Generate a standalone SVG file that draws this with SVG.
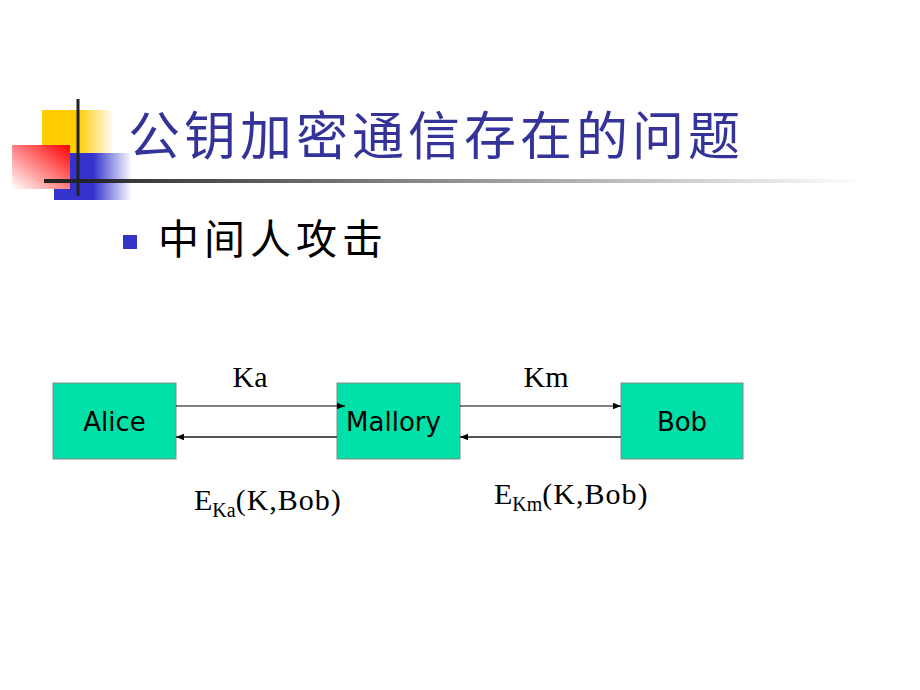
<svg xmlns="http://www.w3.org/2000/svg" width="920" height="690" viewBox="0 0 920 690">
<defs>
<linearGradient id="gy" x1="0" y1="0" x2="1" y2="0">
<stop offset="0" stop-color="#FFCC00"/><stop offset="0.5" stop-color="#FFCC00"/><stop offset="1" stop-color="#FFCC00" stop-opacity="0"/>
</linearGradient>
<linearGradient id="gb" x1="0" y1="0" x2="1" y2="0">
<stop offset="0" stop-color="#3333CC"/><stop offset="0.5" stop-color="#3333CC"/><stop offset="1" stop-color="#3333CC" stop-opacity="0"/>
</linearGradient>
<linearGradient id="gr" x1="1" y1="0" x2="0" y2="1">
<stop offset="0" stop-color="#FF0000"/><stop offset="1" stop-color="#FFFFFF"/>
</linearGradient>
<linearGradient id="gl" x1="0" y1="0" x2="1" y2="0">
<stop offset="0" stop-color="#222222"/><stop offset="1" stop-color="#222222" stop-opacity="0"/>
</linearGradient>
<marker id="ah" viewBox="0 0 10 10" refX="10" refY="5" markerWidth="8" markerHeight="8" markerUnits="userSpaceOnUse" orient="auto">
<path d="M0,1 L10,5 L0,9 z" fill="#000"/>
</marker>
<style>
.box{fill:#00E0A8;stroke:#888;stroke-width:1}
.bt{font-family:"DejaVu Sans",sans-serif;font-size:26px;fill:#000;text-anchor:middle}
.lab{font-family:"Liberation Serif",serif;font-size:30px;fill:#000}
.sub{font-size:20px}
.top{stroke:#000;stroke-width:1.2;fill:none}
.bot{stroke:#555;stroke-width:2;fill:none}
</style>
</defs>
<rect width="920" height="690" fill="#fff"/>
<g id="decor">
<rect x="42" y="110" width="72" height="43" fill="url(#gy)"/>
<rect x="54" y="153" width="78" height="47" fill="url(#gb)"/>
<rect x="12" y="145" width="58" height="44" fill="url(#gr)"/>
<rect x="44" y="179" width="820" height="4" fill="url(#gl)"/>
<rect x="76.5" y="99" width="3" height="97" fill="#222"/>
</g>
<g id="title">
<text x="128" y="155" font-family="Noto Sans CJK SC, sans-serif" font-size="52" fill="#333399" letter-spacing="4">公钥加密通信存在的问题</text>
</g>
<g id="bullet">
<rect x="123" y="235" width="14" height="14" fill="#3333CC"/>
<text x="158" y="254" font-family="Noto Sans CJK SC, sans-serif" font-size="41" fill="#000" letter-spacing="5">中间人攻击</text>
</g>
<g id="alice">
<rect class="box" x="53" y="383" width="123" height="76"/>
<text class="bt" x="114.5" y="431">Alice</text>
</g>
<g id="mallory">
<rect class="box" x="337" y="383" width="123" height="76"/>
<text class="bt" x="393.5" y="431">Mallory</text>
</g>
<g id="bob">
<rect class="box" x="621" y="383" width="122" height="76"/>
<text class="bt" x="682" y="431">Bob</text>
</g>
<g id="connectors">
<line class="top" x1="176" y1="406" x2="345" y2="406" marker-end="url(#ah)"/>
<line class="top" x1="460" y1="406" x2="621" y2="406" marker-end="url(#ah)"/>
<line class="bot" x1="337" y1="437" x2="176" y2="437" marker-end="url(#ah)"/>
<line class="bot" x1="621" y1="437" x2="460" y2="437" marker-end="url(#ah)"/>
</g>
<g id="labels">
<text class="lab" x="250" y="387" text-anchor="middle">Ka</text>
<text class="lab" x="546" y="387" text-anchor="middle">Km</text>
<text class="lab" x="194" y="510">E<tspan class="sub" dy="7">Ka</tspan><tspan dy="-7" letter-spacing="1">(K,Bob)</tspan></text>
<text class="lab" x="494" y="504">E<tspan class="sub" dy="7">Km</tspan><tspan dy="-7" letter-spacing="1">(K,Bob)</tspan></text>
</g>
</svg>
